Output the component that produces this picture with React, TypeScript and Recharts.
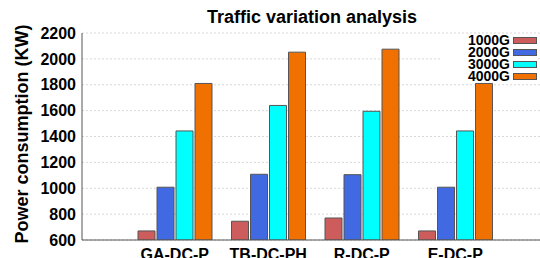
import React from "react";
import { BarChart, Bar, XAxis, YAxis, CartesianGrid, Legend } from "recharts";

const categories = ["GA-DC-P", "TB-DC-PH", "R-DC-P", "E-DC-P"];
const series1000G = [670, 745, 770, 670];
const series2000G = [1008, 1108, 1105, 1008];
const series3000G = [1443, 1640, 1595, 1443];
const series4000G = [1810, 2052, 2075, 1810];
const yTicks = [600, 800, 1000, 1200, 1400, 1600, 1800, 2000, 2200];

const seriesDefs = [
  { key: "s1000", name: "1000G", values: series1000G, color: "#CD5C5C" },
  { key: "s2000", name: "2000G", values: series2000G, color: "#4169E1" },
  { key: "s3000", name: "3000G", values: series3000G, color: "#00FFFF" },
  { key: "s4000", name: "4000G", values: series4000G, color: "#F07000" },
];

const data = categories.map((c, i) => {
  const row: any = { cat: c };
  seriesDefs.forEach((s) => (row[s.key] = s.values[i]));
  return row;
});

const FONT = "'Liberation Sans', Arial, sans-serif";

const LegendContent = () => (
  <div style={{ fontFamily: FONT, fontWeight: "bold", fontSize: 14, lineHeight: "12px" }}>
    {seriesDefs.map((s) => (
      <div key={s.key} style={{ display: "flex", alignItems: "center", justifyContent: "flex-end", height: 12 }}>
        <span style={{ color: "#000" }}>{s.name}</span>
        <span
          style={{
            display: "inline-block",
            width: 22,
            height: 5,
            marginLeft: 3,
            background: s.color,
            border: "1px solid #555",
          }}
        />
      </div>
    ))}
  </div>
);

export default function App() {
  return (
    <div style={{ position: "fixed", left: 0, top: 0, width: 540, height: 258, overflow: "hidden", background: "#fff" }}>
      <div
        style={{
          position: "absolute",
          left: 312,
          top: 6,
          transform: "translateX(-50%)",
          whiteSpace: "nowrap",
          fontFamily: FONT,
          fontWeight: "bold",
          fontSize: 18,
          lineHeight: "22px",
          color: "#000",
        }}
      >
        Traffic variation analysis
      </div>
      <BarChart
        width={548}
        height={258}
        data={data}
        margin={{ top: 33, right: 0, bottom: 0, left: 0 }}
        barSize={17}
        barGap={2}
      >
        <CartesianGrid vertical={false} stroke="#d8d8d8" strokeDasharray="2 2" />
        <XAxis
          dataKey="cat"
          height={18}
          padding={{ left: 46, right: 46 }}
          axisLine={{ stroke: "#555" }}
          tickLine={false}
          tickSize={0}
          tickMargin={9}
          tick={{ fontFamily: FONT, fontWeight: "bold", fontSize: 16, fill: "#000" }}
          interval={0}
        />
        <XAxis
          xAxisId="top"
          dataKey="cat"
          orientation="top"
          height={0}
          mirror
          padding={{ left: 46, right: 46 }}
          axisLine={{ stroke: "#999" }}
          tickLine={{ stroke: "#999" }}
          tickSize={3}
          tick={false}
        />
        <YAxis
          width={82}
          domain={[600, 2200]}
          ticks={yTicks}
          allowDataOverflow
          interval={0}
          axisLine={{ stroke: "#555" }}
          tickLine={false}
          tickSize={0}
          tickMargin={6}
          tick={{ fontFamily: FONT, fontWeight: "bold", fontSize: 16, fill: "#000" }}
          label={() => (
            <text
              x={22}
              y={134}
              transform="rotate(-90 22 134)"
              textAnchor="middle"
              dominantBaseline="central"
              style={{ fontFamily: FONT, fontWeight: "bold", fontSize: 18, fill: "#000" }}
            >
              Power consumption (KW)
            </text>
          )}
        />
        <Legend
          layout="horizontal"
          verticalAlign="middle"
          align="center"
          content={() => <LegendContent />}
          wrapperStyle={{ position: "absolute", left: 440, top: 34, width: 97, height: 48, background: "#fff" }}
        />
        {seriesDefs.map((s) => (
          <Bar
            key={s.key}
            dataKey={s.key}
            name={s.name}
            fill={s.color}
            stroke="#555"
            strokeWidth={1}
            isAnimationActive={false}
          />
        ))}
      </BarChart>
    </div>
  );
}
